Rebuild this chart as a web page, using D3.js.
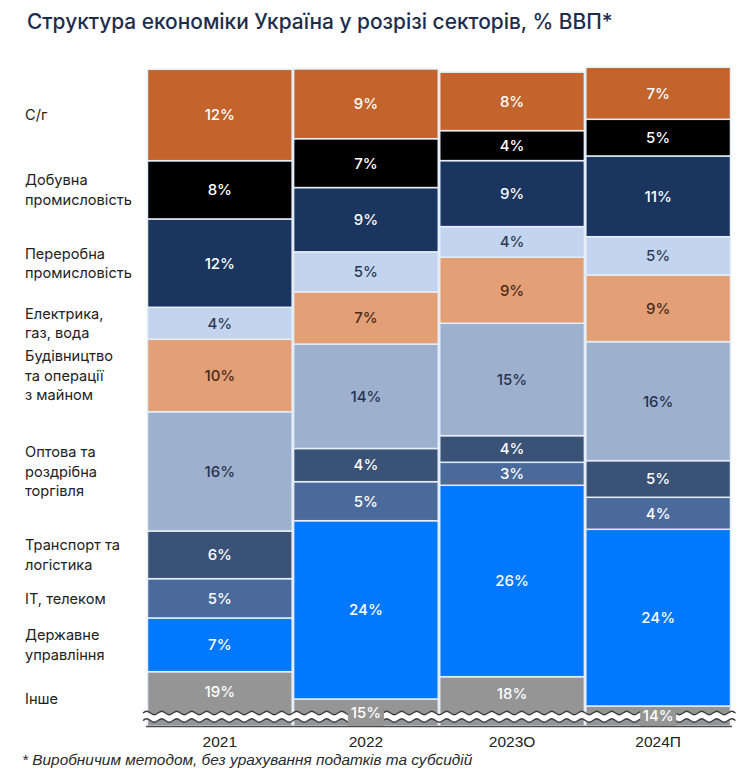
<!DOCTYPE html>
<html><head><meta charset="utf-8">
<script src="https://cdn.jsdelivr.net/npm/d3@7"></script>
<style>body{margin:0;background:#fff} svg{display:block}</style>
</head><body><svg id="chart" width="750" height="777"></svg>
<script>
// ---- data ----
const years = ["2021", "2022", "2023О", "2024П"];
const sectors = ["С/г", "Добувна промисловість", "Переробна промисловість", "Електрика, газ, вода",
  "Будівництво та операції з майном", "Оптова та роздрібна торгівля", "Транспорт та логістика",
  "IT, телеком", "Державне управління", "Інше"];
const sectorLines = [["С/г"], ["Добувна", "промисловість"], ["Переробна", "промисловість"], ["Електрика,", "газ, вода"],
  ["Будівництво", "та операції", "з майном"], ["Оптова та", "роздрібна", "торгівля"], ["Транспорт та", "логістика"],
  ["IT, телеком"], ["Державне", "управління"], ["Інше"]];
const values2021 = [12.25, 7.81, 11.84, 4.29, 9.71, 15.99, 6.39, 5.27, 7.20, 18.78];
const values2022 = [9.34, 6.55, 8.62, 5.36, 7.01, 13.99, 4.45, 5.23, 23.90, 15.12];
const values2023 = [7.83, 4.02, 8.85, 4.10, 8.85, 15.07, 3.57, 3.08, 25.66, 18.11];
const values2024 = [6.97, 4.92, 10.82, 5.13, 8.94, 15.95, 4.91, 4.29, 23.69, 14.18];
const axisBreak = 11.5; // hidden part of the axis (broken scale)
const colors = ["#C2642C", "#000000", "#1A355E", "#C3D5EE", "#E3A077", "#9DB0CE", "#3A5276", "#4A6A9B", "#0078FF", "#959595"];
const labelColors = ["#fff", "#fff", "#fff", "#2b3a55", "#4a2a17", "#25324d", "#fff", "#fff", "#fff", "#fff"];
const title = "Структура економіки Україна у розрізі секторів, % ВВП*";
const footnote = "* Виробничим методом, без урахування податків та субсидій";

// ---- layout ----
const svg = d3.select("#chart");
const baseY = 726, breakTop = 711;
const allValues = [values2021, values2022, values2023, values2024];
const rows = years.map((yr, i) => {
  const o = { year: yr };
  sectors.forEach((s, j) => o[s] = allValues[i][j]);
  return o;
});

const x = d3.scaleBand().domain(years).range([147.5, 730.5]).paddingInner(0.01);
const y = d3.scaleLinear().domain([axisBreak, 100]).range([baseY, 65.8]).clamp(true);

const stackKeys = sectors.slice().reverse(); // Інше at the bottom
const series = d3.stack().keys(stackKeys)(rows);

svg.append("text").attr("x", 27).attr("y", 29)
  .attr("font-family", "Inter, 'Noto Sans', sans-serif").attr("font-weight", 500)
  .attr("font-size", 20.9).attr("fill", "#1f2d4d").text(title);

const g = svg.append("g");
series.forEach(s => {
  const idx = sectors.indexOf(s.key);
  g.selectAll(null).data(s).enter().append("rect")
    .attr("x", d => x(d.data.year))
    .attr("width", x.bandwidth())
    .attr("y", d => y(d[1]))
    .attr("height", d => y(d[0]) - y(d[1]))
    .attr("fill", colors[idx])
    .attr("stroke", "#e4edf8").attr("stroke-width", 1.5);
});

// broken-axis marker
const waveX = d3.range(143, 736, 3.75);
const off = i => (i % 4 === 1 ? -2.6 : i % 4 === 3 ? 2.6 : 0);
const wave = (base) => d3.line().curve(d3.curveBasis)(waveX.map((xx, i) => [xx, base + off(i)]));
const waveArea = d3.area().curve(d3.curveBasis)
  .x(xx => xx)
  .y0((xx, i) => 713 + off(i))
  .y1((xx, i) => 720.5 + off(i));
svg.append("path").attr("d", waveArea(waveX)).attr("fill", "#fff");
svg.append("path").attr("d", wave(713)).attr("fill", "none").attr("stroke", "#3d3d3d").attr("stroke-width", 1.4);
svg.append("path").attr("d", wave(720.5)).attr("fill", "none").attr("stroke", "#3d3d3d").attr("stroke-width", 1.4);
svg.append("line").attr("x1", 146).attr("x2", 732).attr("y1", baseY + 0.5).attr("y2", baseY + 0.5)
  .attr("stroke", "#4a4a4a").attr("stroke-width", 1.6);

// value labels
series.forEach(s => {
  const idx = sectors.indexOf(s.key);
  s.forEach(d => {
    const cx = x(d.data.year) + x.bandwidth() / 2;
    const top = y(d[1]);
    let cy;
    if (s.key === "Інше") {
      if (breakTop - top > 20) cy = (top + breakTop) / 2;
      else {
        cy = (top + baseY) / 2;
        svg.append("rect").attr("x", cx - 18).attr("width", 36)
          .attr("y", cy - 9).attr("height", baseY - (cy - 9)).attr("fill", colors[idx]);
      }
    } else cy = (top + y(d[0])) / 2;
    svg.append("text").attr("x", cx).attr("y", cy).attr("dy", "0.36em")
      .attr("font-family", "Inter, 'Noto Sans', sans-serif").attr("font-size", 15)
      .attr("text-anchor", "middle").attr("font-weight", 500)
      .attr("fill", labelColors[idx]).text(Math.round(d.data[s.key]) + "%");
  });
});

// category labels aligned with 2021 segments
const catG = svg.append("g").attr("font-family", "Inter, 'Noto Sans', sans-serif")
  .attr("font-size", 14.6).attr("fill", "#222");
series.forEach(s => {
  const idx = sectors.indexOf(s.key);
  const d = s[0];
  const cy = (y(d[1]) + y(d[0])) / 2;
  const lines = sectorLines[idx];
  const lh = 19.5;
  lines.forEach((t, k) => {
    catG.append("text").attr("x", 25)
      .attr("y", cy + (k - (lines.length - 1) / 2) * lh).attr("dy", "0.36em").text(t);
  });
});

// x axis labels
const xAxis = svg.append("g").attr("transform", `translate(0,${baseY})`)
  .call(d3.axisBottom(x).tickSize(0).tickPadding(10));
xAxis.select(".domain").remove();
xAxis.selectAll("text").attr("font-family", "'Liberation Sans', Arial, sans-serif")
  .attr("font-size", 15.5).attr("fill", "#222");

svg.append("text").attr("x", 22).attr("y", 765)
  .attr("font-family", "'Liberation Sans', Arial, sans-serif").attr("font-style", "italic")
  .attr("font-size", 15.4).attr("fill", "#2a2a2a").text(footnote);
</script></body></html>
